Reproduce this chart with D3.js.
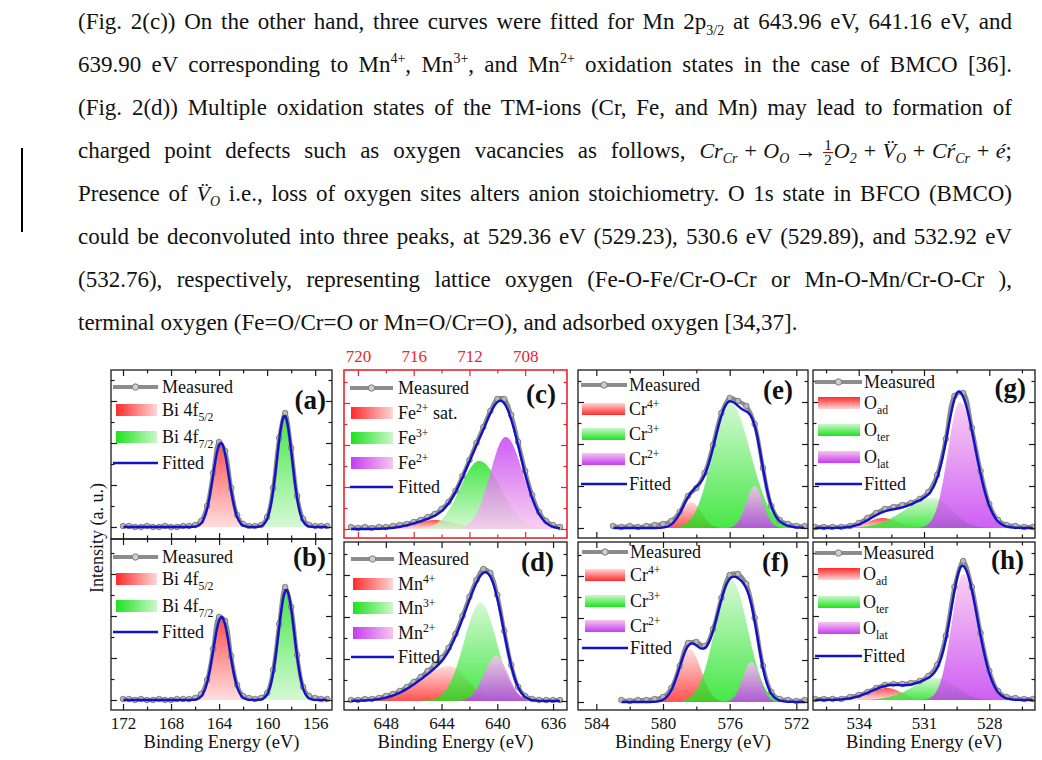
<!DOCTYPE html>
<html>
<head>
<meta charset="utf-8">
<script src="https://cdn.jsdelivr.net/npm/d3@7"></script>
<style>
  body { margin: 0; background: #fff; width: 1042px; height: 760px; overflow: hidden; position: relative;
         font-family: "Liberation Serif", "Times New Roman", serif; color: #111; }
  #chart { position: absolute; left: 0; top: 0; }
  #chart text { font-family: "Liberation Serif", "Times New Roman", serif; }
  #para { position: absolute; left: 78px; top: 0; width: 934px; font-size: 23px; z-index: 2; }
  .ln { position: absolute; left: 0; width: 934px; height: 43px; line-height: 43px;
        text-align: justify; text-align-last: justify; }
  .ln.last { text-align-last: left; }
  sub, sup { font-size: 14px; line-height: 0; }
  .m { font-style: italic; font-size: 22px; }
  .frac { display: inline-block; vertical-align: middle; text-align: center; font-size: 15px;
          line-height: 14px; font-style: normal; margin: 0 1px; }
  .frac span { display: block; padding: 0 1px; }
  .frac .num { border-bottom: 1px solid #c00000; }
  #bar { position: absolute; left: 21px; top: 148px; width: 1.5px; height: 84px; background: #000; }
</style>
</head>
<body>
<div id="bar"></div>
<div id="para">
  <div class="ln" style="top:0px">(Fig. 2(c)) On the other hand, three curves were fitted for Mn 2p<sub>3/2</sub> at 643.96 eV, 641.16 eV, and</div>
  <div class="ln" style="top:43px">639.90 eV corresponding to Mn<sup>4+</sup>, Mn<sup>3+</sup>, and Mn<sup>2+</sup> oxidation states in the case of BMCO [36].</div>
  <div class="ln" style="top:86px">(Fig. 2(d)) Multiple oxidation states of the TM-ions (Cr, Fe, and Mn) may lead to formation of</div>
  <div class="ln" style="top:129px">charged point defects such as oxygen vacancies as follows, <span class="m">Cr<sub>Cr</sub>&#8197;+&#8197;O<sub>O</sub>&#8197;→&#8197;<span class="frac"><span class="num">1</span><span>2</span></span>O<sub>2</sub>&#8197;+&#8197;V&#776;<sub>O</sub>&#8197;+&#8197;Cŕ<sub>Cr</sub>&#8197;+&#8197;é</span>;</div>
  <div class="ln" style="top:172px">Presence of <span class="m">V&#776;<sub>O</sub></span> i.e., loss of oxygen sites alters anion stoichiometry. O 1s state in BFCO (BMCO)</div>
  <div class="ln" style="top:215px">could be deconvoluted into three peaks, at 529.36 eV (529.23), 530.6 eV (529.89), and 532.92 eV</div>
  <div class="ln" style="top:258px">(532.76), respectively, representing lattice oxygen (Fe-O-Fe/Cr-O-Cr or Mn-O-Mn/Cr-O-Cr ),</div>
  <div class="ln last" style="top:301px">terminal oxygen (Fe=O/Cr=O or Mn=O/Cr=O), and adsorbed oxygen [34,37].</div>
</div>
<div id="chart"></div>
<script>
const W = 1042, H = 760

// binding energy windows (eV), high BE on the left
const domainBi = [173, 154.6]
const domainFe = [721, 705]
const domainMn = [651, 635]
const domainCr = [585.1, 571.3]
const domainO = [536.1, 525.9]

// tick labels
const ticksBi = [172, 168, 164, 160, 156], minorBi = [170, 166, 162, 158]
const ticksFe = [720, 716, 712, 708], minorFe = [718, 714, 710, 706]
const ticksMn = [648, 644, 640, 636], minorMn = [650, 646, 642, 638]
const ticksCr = [584, 580, 576, 572], minorCr = [582, 578, 574]
const ticksO = [534, 531, 528], minorO = [535.5, 532.5, 529.5, 526.5]
const yMajor = [0, 42, 84, 126], yMinor = [21, 63, 105, 147]

// fitted components: [centre eV, height, FWHM high-BE side, FWHM low-BE side]
const peaksA = [[163.85, 84, 1.55, 1.55], [158.55, 111, 1.5, 1.5]]
const peaksB = [[163.8, 83, 1.6, 1.6], [158.4, 110, 1.55, 1.55]]
const peaksC = [[714.5, 9, 3.5, 3.5], [711.3, 68, 3.2, 3.6], [709.4, 92, 2.6, 2.9]]
const peaksD = [[643.4, 35, 5, 3], [641.2, 98, 2.8, 2.7], [640.1, 45, 2, 2]]
const peaksE = [[578.3, 26, 1.4, 1.4], [576.0, 126, 2.4, 2.9], [574.5, 42, 1.2, 1.2]]
const peaksF = [[578.4, 53, 1.5, 1.6], [575.9, 122, 2.3, 2.3], [574.7, 40, 1.2, 1.2]]
const peaksG = [[532.9, 10, 1.6, 1.6], [530.6, 30, 3.0, 2.0], [529.35, 126, 1.3, 1.7]]
const peaksH = [[532.7, 12, 2.0, 1.6], [530.4, 22, 2.6, 2.0], [529.2, 126, 1.25, 1.6]]

// measured spectra: scan = [first energy, step], then intensities
const scanA = [172, 0.5]
const measA = [1, 1, 0, 0, 1, 0, 0, 1, 0, 0, 1, 1, 2, 6, 21, 54, 85, 76, 39, 12, 3, 1, 1, 2, 10, 39, 89, 114, 79, 31, 8, 2, 1, 1, 1]
const scanB = [172, 0.5]
const measB = [1, 1, 0, 1, 0, 0, 1, 0, 0, 1, 1, 1, 2, 6, 20, 51, 83, 79, 44, 15, 4, 2, 1, 2, 7, 30, 76, 113, 93, 45, 13, 4, 2, 1, 1]
const scanC = [720.5, 0.5]
const measC = [2, 1, 2, 1, 2, 2, 3, 4, 5, 7, 9, 12, 15, 20, 27, 38, 53, 69, 86, 102, 118, 130, 130, 114, 87, 58, 34, 17, 8, 4, 2]
const scanD = [650.5, 0.5]
const measD = [1, 1, 2, 2, 3, 5, 7, 10, 14, 19, 24, 30, 36, 43, 53, 67, 85, 104, 121, 132, 128, 106, 70, 36, 14, 5, 2, 1, 1, 1, 1]
const scanE = [583, 0.5]
const measE = [2, 1, 2, 1, 2, 3, 4, 7, 16, 32, 40, 55, 83, 115, 130, 127, 122, 104, 60, 22, 8, 4, 2, 2]
const scanF = [582.5, 0.5]
const measF = [2, 1, 2, 2, 3, 5, 14, 36, 59, 60, 56, 73, 104, 127, 128, 118, 84, 36, 10, 3, 2, 1, 2]
const scanG = [536, 0.4]
const measG = [1, 1, 1, 1, 2, 5, 10, 15, 19, 21, 23, 25, 29, 36, 53, 89, 132, 135, 100, 57, 24, 8, 3, 2, 1, 1]
const scanH = [536, 0.4]
const measH = [1, 1, 1, 1, 3, 5, 8, 12, 15, 16, 16, 17, 19, 24, 35, 64, 113, 139, 113, 67, 29, 9, 3, 2, 1, 1]

// legend labels
const labelsBi = ["Bi 4f_{5/2}", "Bi 4f_{7/2}"]
const labelsFe = ["Fe^{2+} sat.", "Fe^{3+}", "Fe^{2+}"]
const labelsMn = ["Mn^{4+}", "Mn^{3+}", "Mn^{2+}"]
const labelsCr = ["Cr^{4+}", "Cr^{3+}", "Cr^{2+}"]
const labelsO = ["O_{ad}", "O_{ter}", "O_{lat}"]

const SAT = {red: "#ff2b2b", green: "#1ee21e", purple: "#c43cf2"}
const LIGHT = {red: "#ffd6d6", green: "#cbf7cb", purple: "#f8c6ee"}
const RED = "#e8262b"
const FONT = "Liberation Serif, Times New Roman, serif"

const COLS = [[111, 332], [344, 567], [578, 808], [813, 1035]]
const RGB3 = ["red", "green", "purple"]

const panels = [
  {tag: "(a)", col: 0, ys: [370, 539], base: 12, dom: domainBi, ticks: ticksBi, minor: minorBi,
   peaks: peaksA, scan: scanA, meas: measA, labels: labelsBi, colors: ["red", "green"],
   fill: ["top", "top"], sw: ["h", "h"], rows: [17, 40, 67, 93], leg: [2, 47, 5, 41, 51], tagAt: [326, 409]},
  {tag: "(b)", col: 0, ys: [539, 710], base: 10, dom: domainBi, ticks: ticksBi, minor: minorBi, labelsBottom: true,
   peaks: peaksB, scan: scanB, meas: measB, labels: labelsBi, colors: ["red", "green"],
   fill: ["top", "top"], sw: ["h", "h"], rows: [18, 40, 67, 93], leg: [2, 47, 5, 41, 51], tagAt: [326, 566]},
  {tag: "(c)", col: 1, ys: [370, 538], base: 9, dom: domainFe, ticks: ticksFe, minor: minorFe, red: true,
   peaks: peaksC, scan: scanC, meas: measC, labels: labelsFe, colors: RGB3,
   fill: ["top", "top", "top"], sw: ["h", "h", "h"], rows: [18, 43, 68, 93, 117], leg: [6, 49, 7, 42, 54], tagAt: [556, 403]},
  {tag: "(d)", col: 1, ys: [542, 710], base: 9, dom: domainMn, ticks: ticksMn, minor: minorMn, labelsBottom: true,
   peaks: peaksD, scan: scanD, meas: measD, labels: labelsMn, colors: RGB3,
   fill: ["bottom", "bottom", "bottom"], sw: ["h", "h", "h"], rows: [17, 42, 66, 91, 115], leg: [7, 50, 9, 40, 54], tagAt: [554, 571]},
  {tag: "(e)", col: 2, ys: [370, 538], base: 10, dom: domainCr, ticks: ticksCr, minor: minorCr,
   peaks: peaksE, scan: scanE, meas: measE, labels: labelsCr, colors: RGB3,
   fill: ["bottom", "bottom", "bottom"], sw: ["bottom", "bottom", "bottom"], rows: [15, 39, 64, 89, 114], leg: [3, 49, 4, 43, 51], tagAt: [793, 399]},
  {tag: "(f)", col: 2, ys: [542, 710], base: 8, dom: domainCr, ticks: ticksCr, minor: minorCr, labelsBottom: true,
   peaks: peaksF, scan: scanF, meas: measF, labels: labelsCr, colors: RGB3,
   fill: ["bottom", "bottom", "bottom"], sw: ["bottom", "bottom", "bottom"], rows: [10, 33, 59, 84, 106], leg: [4, 50, 7, 40, 52], tagAt: [789, 571]},
  {tag: "(g)", col: 3, ys: [370, 538], base: 10, dom: domainO, ticks: ticksO, minor: minorO,
   peaks: peaksG, scan: scanG, meas: measG, labels: labelsO, colors: RGB3,
   fill: ["top", "bottom", "bottom"], sw: ["top", "bottom", "bottom"], rows: [12, 33, 60, 87, 114], leg: [2, 49, 5, 42, 51], tagAt: [1026, 397]},
  {tag: "(h)", col: 3, ys: [542, 710], base: 10, dom: domainO, ticks: ticksO, minor: minorO, labelsBottom: true,
   peaks: peaksH, scan: scanH, meas: measH, labels: labelsO, colors: RGB3,
   fill: ["top", "bottom", "bottom"], sw: ["top", "bottom", "bottom"], rows: [11, 32, 60, 86, 114], leg: [2, 49, 5, 42, 50], tagAt: [1024, 569]}
]

const svg = d3.select("#chart").append("svg")
  .attr("width", W)
  .attr("height", H)
  .style("font-family", FONT)

const defs = svg.append("defs")

function grad(color, dir) {
  const id = `g-${color}-${dir}`
  if (defs.select("#" + id).empty()) {
    const lg = defs.append("linearGradient").attr("id", id)
      .attr("x1", 0).attr("y1", 0)
      .attr("x2", dir === "h" ? 1 : 0).attr("y2", dir === "h" ? 0 : 1)
    const c = dir === "bottom" ? [LIGHT[color], SAT[color]] : [SAT[color], LIGHT[color]]
    lg.append("stop").attr("offset", "0%").attr("stop-color", c[0])
    lg.append("stop").attr("offset", "100%").attr("stop-color", c[1])
  }
  return `url(#${id})`
}

// split gaussian for one component
function comp(e, p) {
  const w = e >= p[0] ? p[2] : p[3]
  const r = (e - p[0]) / w
  return p[1] * Math.exp(-4 * Math.LN2 * r * r)
}

function richText(sel, str, size) {
  const parts = str.split(/([\^_]\{[^}]*\})/).filter(s => s)
  let shift = 0
  parts.forEach(s => {
    let txt = s, fs = size, off = 0
    if (s[0] === "^") { txt = s.slice(2, -1); fs = size * 0.65; off = -size * 0.4 }
    else if (s[0] === "_") { txt = s.slice(2, -1); fs = size * 0.65; off = size * 0.3 }
    sel.append("tspan").attr("dy", off - shift).attr("font-size", fs).text(txt)
    shift = off
  })
}

function styleAxis(g, color) {
  g.select(".domain").remove()
  g.selectAll("line").attr("stroke", color).attr("stroke-width", 1.2)
  g.attr("font-family", null).attr("font-size", null)
  g.selectAll("text")
    .style("font-family", FONT)
    .style("font-size", "17px")
    .attr("fill", color === RED ? RED : "#111")
}

panels.forEach(p => {
  const [x0, x1] = COLS[p.col]
  const [y0, y1] = p.ys
  const x = d3.scaleLinear().domain(p.dom).range([x0, x1])
  const y = d3.scaleLinear().domain([-p.base, (y1 - y0) - p.base]).range([y1, y0])
  const ink = p.red ? RED : "#1a1a1a"

  const clipId = "clip" + p.tag.replace(/\W/g, "")
  defs.append("clipPath").attr("id", clipId)
    .append("rect").attr("x", x0).attr("y", y0).attr("width", x1 - x0).attr("height", y1 - y0)
  const plot = svg.append("g").attr("clip-path", `url(#${clipId})`)

  const es = d3.range(0, 501).map(i => p.dom[0] + (p.dom[1] - p.dom[0]) * i / 500)

  // component areas
  p.peaks.forEach((pk, j) => {
    const pts = es.filter(e => comp(e, pk) > 0.05)
    plot.append("path")
      .datum(pts)
      .attr("d", d3.area().x(e => x(e)).y0(y(0)).y1(e => y(comp(e, pk))))
      .attr("fill", grad(p.colors[j], p.fill[j]))
      .attr("fill-opacity", 0.82)
  })

  // measured
  const pts = p.meas.map((v, i) => [p.scan[0] - i * p.scan[1], v])
  plot.append("path")
    .datum(pts)
    .attr("d", d3.line().x(d => x(d[0])).y(d => y(d[1])).curve(d3.curveCatmullRom))
    .attr("fill", "none")
    .attr("stroke", "#8c8c8c")
    .attr("stroke-width", 4)
  plot.selectAll(null)
    .data(pts)
    .join("circle")
    .attr("cx", d => x(d[0]))
    .attr("cy", d => y(d[1]))
    .attr("r", 2.8)
    .attr("fill", "#b6b6b6")
    .attr("stroke", "#6e6e6e")
    .attr("stroke-width", 0.8)

  // fitted envelope
  const eHi = pts[0][0], eLo = pts[pts.length - 1][0]
  plot.append("path")
    .datum(es.filter(e => e <= eHi && e >= eLo))
    .attr("d", d3.line().x(e => x(e)).y(e => y(d3.sum(p.peaks, pk => comp(e, pk)))))
    .attr("fill", "none")
    .attr("stroke", "#1212c8")
    .attr("stroke-width", 2.4)

  // ticks, all inward
  const bottomAx = svg.append("g").attr("transform", `translate(0, ${y1})`)
    .call(d3.axisBottom(x).tickValues(p.ticks).tickSize(-6).tickPadding(7)
      .tickFormat(p.labelsBottom ? d3.format("d") : ""))
  styleAxis(bottomAx, ink)
  const bottomMinor = svg.append("g").attr("transform", `translate(0, ${y1})`)
    .call(d3.axisBottom(x).tickValues(p.minor).tickSize(-3.5).tickFormat(""))
  styleAxis(bottomMinor, ink)

  const topAx = svg.append("g").attr("transform", `translate(0, ${y0})`)
    .call(d3.axisTop(x).tickValues(p.ticks).tickSize(-6).tickPadding(8)
      .tickFormat(p.red ? d3.format("d") : ""))
  styleAxis(topAx, ink)
  const topMinor = svg.append("g").attr("transform", `translate(0, ${y0})`)
    .call(d3.axisTop(x).tickValues(p.minor).tickSize(-3.5).tickFormat(""))
  styleAxis(topMinor, ink)

  const yDom = y.domain()
  const inY = v => v >= yDom[0] + 3 && v <= yDom[1] - 3
  ;[[d3.axisLeft, x0], [d3.axisRight, x1]].forEach(([ax, xx]) => {
    const gM = svg.append("g").attr("transform", `translate(${xx}, 0)`)
      .call(ax(y).tickValues(yMajor.filter(inY)).tickSize(-6).tickFormat(""))
    styleAxis(gM, ink)
    const gm = svg.append("g").attr("transform", `translate(${xx}, 0)`)
      .call(ax(y).tickValues(yMinor.filter(inY)).tickSize(-3.5).tickFormat(""))
    styleAxis(gm, ink)
  })

  // frame
  svg.append("rect")
    .attr("x", x0).attr("y", y0)
    .attr("width", x1 - x0).attr("height", y1 - y0)
    .attr("fill", "none")
    .attr("stroke", ink)
    .attr("stroke-width", p.red ? 1.6 : 1.3)

  // legend
  const [la, lb, sa, sw, tx] = p.leg
  const rows = p.rows.map(r => y0 + r)
  const leg = svg.append("g").attr("font-size", 18).attr("fill", "#111")

  leg.append("line")
    .attr("x1", x0 + la).attr("x2", x0 + lb)
    .attr("y1", rows[0]).attr("y2", rows[0])
    .attr("stroke", "#8c8c8c").attr("stroke-width", 4)
  leg.append("circle")
    .attr("cx", x0 + (la + lb) / 2).attr("cy", rows[0]).attr("r", 3.2)
    .attr("fill", "#cfcfcf").attr("stroke", "#7a7a7a").attr("stroke-width", 1)
  leg.append("text").attr("x", x0 + tx).attr("y", rows[0] + 6).text("Measured")

  p.labels.forEach((lab, j) => {
    const ry = rows[j + 1]
    leg.append("rect")
      .attr("x", x0 + sa).attr("y", ry - 6)
      .attr("width", sw).attr("height", 12)
      .attr("fill", grad(p.colors[j], p.sw[j]))
    const t = leg.append("text").attr("x", x0 + tx).attr("y", ry + 6)
    richText(t, lab, 18)
  })

  const fy = rows[rows.length - 1]
  leg.append("line")
    .attr("x1", x0 + la).attr("x2", x0 + lb)
    .attr("y1", fy).attr("y2", fy)
    .attr("stroke", "#1212c8").attr("stroke-width", 2.4)
  leg.append("text").attr("x", x0 + tx).attr("y", fy + 6).text("Fitted")

  // panel tag
  svg.append("text")
    .attr("x", p.tagAt[0]).attr("y", p.tagAt[1])
    .attr("text-anchor", "end")
    .attr("font-size", 27)
    .attr("font-weight", "bold")
    .attr("fill", "#111")
    .text(p.tag)
})

// axis titles
COLS.forEach(([a, b]) => {
  svg.append("text")
    .attr("x", (a + b) / 2)
    .attr("y", 748)
    .attr("text-anchor", "middle")
    .attr("font-size", 18.5)
    .attr("fill", "#111")
    .text("Binding Energy (eV)")
})

svg.append("text")
  .attr("transform", "translate(97, 538) rotate(-90)")
  .attr("text-anchor", "middle")
  .attr("dy", "0.35em")
  .attr("font-size", 18)
  .attr("fill", "#111")
  .text("Intensity (a. u.)")
</script>
</body>
</html>
